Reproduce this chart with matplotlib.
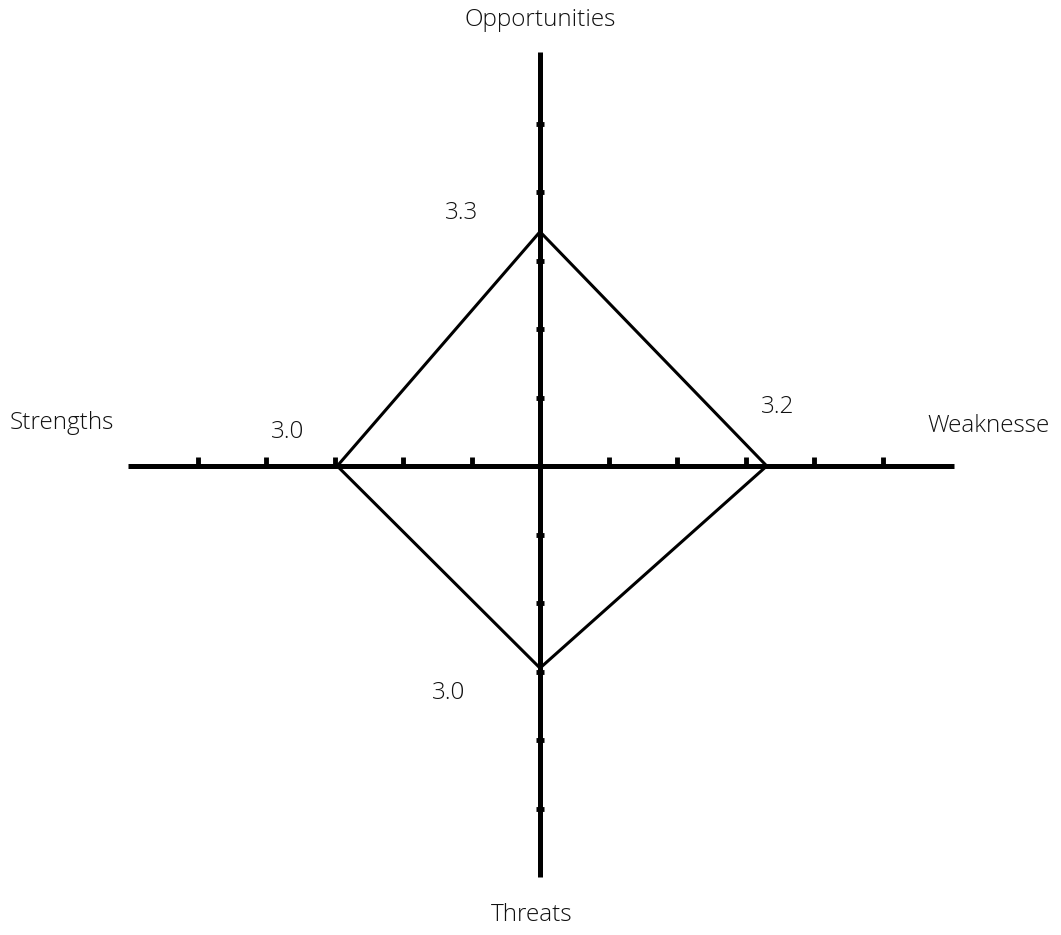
import matplotlib.pyplot as plt

# SWOT scores, order: Strengths (left), Opportunities (top), Weaknesses (right), Threats (bottom)
axis_names = ["Strengths", "Opportunities", "Weaknesse", "Threats"]
plot_values = [2.96, 3.42, 3.31, 2.95]
value_labels = ["3.0", "3.3", "3.2", "3.0"]
tick_steps = [-5, -4, -3, -2, -1, 1, 2, 3, 4, 5]

plt.rcParams['font.family'] = ['Open Sans', 'DejaVu Sans']

fig = plt.figure(figsize=(10.61, 9.35), dpi=100)
ax = fig.add_axes([0, 0, 1, 1])
scale = 68.5
ax.set_xlim(-540 / scale, (1061 - 540) / scale)
ax.set_ylim(-469 / scale, 466 / scale)
ax.axis('off')

# axes cross
ax.plot([-6.02, 6.05], [0, 0], color='black', lw=3.6, solid_capstyle='butt')
ax.plot([0, 0], [-6.0, 6.04], color='black', lw=3.6, solid_capstyle='butt')

# tick marks
ax.plot(tick_steps, [0.07] * len(tick_steps), ls='none', marker='|', ms=6, mew=3.5, color='black')
ax.plot([0] * len(tick_steps), tick_steps, ls='none', marker='_', ms=5.5, mew=3.5, color='black')

# diamond
s, o, w, t = plot_values
xs = [-s, 0, w, 0, -s]
ys = [0, o, 0, -t, 0]
ax.plot(xs, ys, color='black', lw=2.2, solid_joinstyle='miter')

fs = 17.5
kw = dict(ha='center', va='center', fontsize=fs, fontweight='light', color='#111111')
ax.text(0, 6.51, axis_names[1], **kw)
ax.text(-0.12, -6.56, axis_names[3], **kw)
ax.text(-6.98, 0.63, axis_names[0], **kw)
ax.text(6.55, 0.58, axis_names[2], **kw)

ax.text(-3.68, 0.50, value_labels[0], **kw)
ax.text(-1.15, 3.70, value_labels[1], **kw)
ax.text(3.47, 0.86, value_labels[2], **kw)
ax.text(-1.34, -3.31, value_labels[3], **kw)

plt.savefig("out.png", dpi=100)
